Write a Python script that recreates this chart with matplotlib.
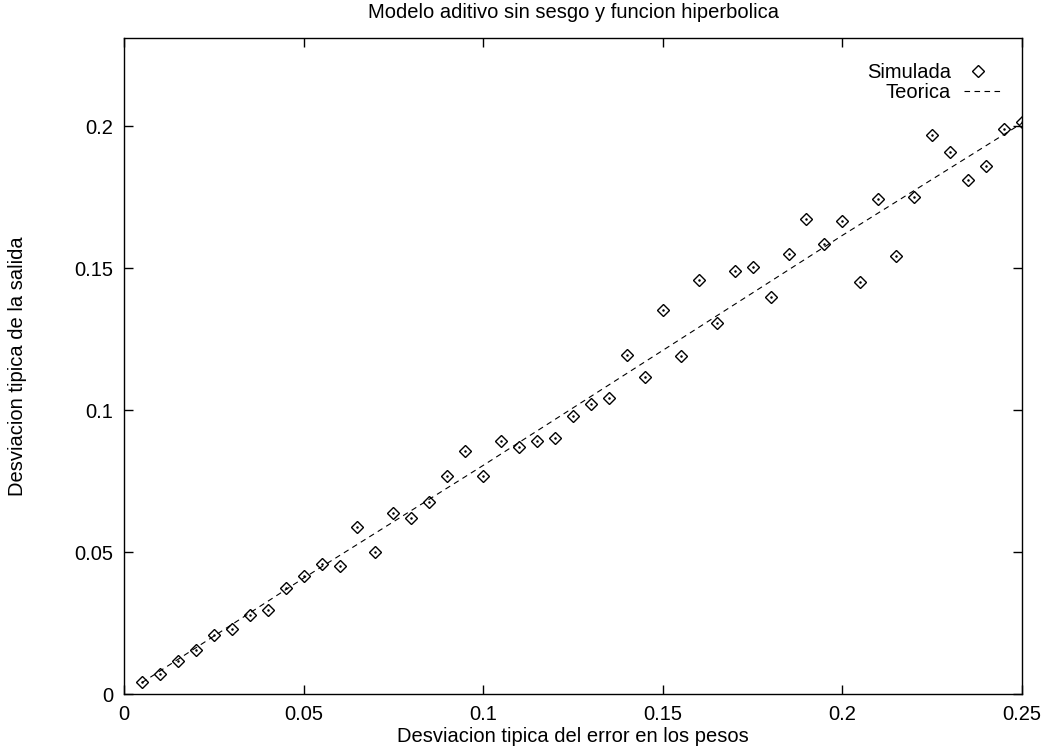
import matplotlib
matplotlib.use("Agg")
import matplotlib.pyplot as plt

plt.rcParams['font.family'] = ['Liberation Sans', 'DejaVu Sans']

# Data
x_sim = [0.005, 0.010, 0.015, 0.020, 0.025, 0.030, 0.035, 0.040, 0.045, 0.050,
         0.055, 0.060, 0.065, 0.070, 0.075, 0.080, 0.085, 0.090, 0.095, 0.100,
         0.105, 0.110, 0.115, 0.120, 0.125, 0.130, 0.135, 0.140, 0.145, 0.150,
         0.155, 0.160, 0.165, 0.170, 0.175, 0.180, 0.185, 0.190, 0.195, 0.200,
         0.205, 0.210, 0.215, 0.220, 0.225, 0.230, 0.235, 0.240, 0.245, 0.250]
y_sim = [0.0041, 0.0070, 0.0117, 0.0155, 0.0208, 0.0229, 0.0278, 0.0296, 0.0374, 0.0415,
         0.0458, 0.0450, 0.0587, 0.0499, 0.0636, 0.0621, 0.0675, 0.0769, 0.0855, 0.0768,
         0.0891, 0.0869, 0.0892, 0.0903, 0.0980, 0.1021, 0.1041, 0.1195, 0.1115, 0.1352,
         0.1190, 0.1458, 0.1306, 0.1489, 0.1504, 0.1398, 0.1549, 0.1673, 0.1585, 0.1666,
         0.1451, 0.1743, 0.1542, 0.1750, 0.1968, 0.1908, 0.1810, 0.1859, 0.1989, 0.2014]

x_teo = [0.005, 0.050, 0.100, 0.150, 0.200, 0.250]
y_teo = [0.0040, 0.0408, 0.0805, 0.1210, 0.1615, 0.2010]

title = "Modelo aditivo sin sesgo y funcion hiperbolica"
xlabel = "Desviacion tipica del error en los pesos"
ylabel = "Desviacion tipica de la salida"
xticks = [0, 0.05, 0.1, 0.15, 0.2, 0.25]
xticklabels = ["0", "0.05", "0.1", "0.15", "0.2", "0.25"]
yticks = [0, 0.05, 0.1, 0.15, 0.2]
yticklabels = ["0", "0.05", "0.1", "0.15", "0.2"]

FS = 14.5

fig = plt.figure(figsize=(10.47, 7.49), dpi=100)
ax = fig.add_axes([124/1047, 1 - 694/749, (1022-124)/1047, (694-38)/749])

ax.plot(x_teo, y_teo, color='black', lw=0.8, linestyle=(0, (5, 4)))
ax.plot(x_sim, y_sim, linestyle='none', marker='D', markersize=6.0,
        markerfacecolor='none', markeredgecolor='black', markeredgewidth=1.0)
ax.plot(x_sim, y_sim, linestyle='none', marker='o', markersize=0.8,
        color='black')

ax.set_xlim(0, 0.25)
ax.set_ylim(0, 0.231)
ax.set_xticks(xticks)
ax.set_xticklabels(xticklabels)
ax.set_yticks(yticks)
ax.set_yticklabels(yticklabels)
ax.tick_params(direction='in', length=6.5, width=1.0, top=True, right=True,
               labelsize=FS, pad=8)
for s in ax.spines.values():
    s.set_linewidth(1.0)

fig.text(573/1047, 1 - 13/749, title, ha='center', va='center', fontsize=FS)
fig.text(573/1047, 1 - 737/749, xlabel, ha='center', va='center', fontsize=FS)
fig.text(18/1047, 1 - 366/749, ylabel, ha='center', va='center', fontsize=FS,
         rotation=90)

# legend (manual, gnuplot style)
tr = ax.transAxes
def ax_xy(px, py):
    return ((px - 124) / 898, (694 - py) / 656)
tx, ty = ax_xy(951, 72)
ax.text(tx, ty, "Simulada", transform=tr, ha='right', va='center', fontsize=FS)
mx, my = ax_xy(978, 71)
ax.plot([mx], [my], transform=tr, linestyle='none', marker='D', markersize=6.0,
        markerfacecolor='none', markeredgecolor='black', markeredgewidth=1.0)
tx2, ty2 = ax_xy(951, 92)
ax.text(tx2, ty2, "Teorica", transform=tr, ha='right', va='center', fontsize=FS)
l1x, l1y = ax_xy(964, 91)
l2x, _ = ax_xy(1002, 91)
ax.plot([l1x, l2x], [l1y, l1y], transform=tr, color='black', lw=0.8,
        linestyle=(0, (5, 4)))

fig.savefig("out.png", dpi=100)
